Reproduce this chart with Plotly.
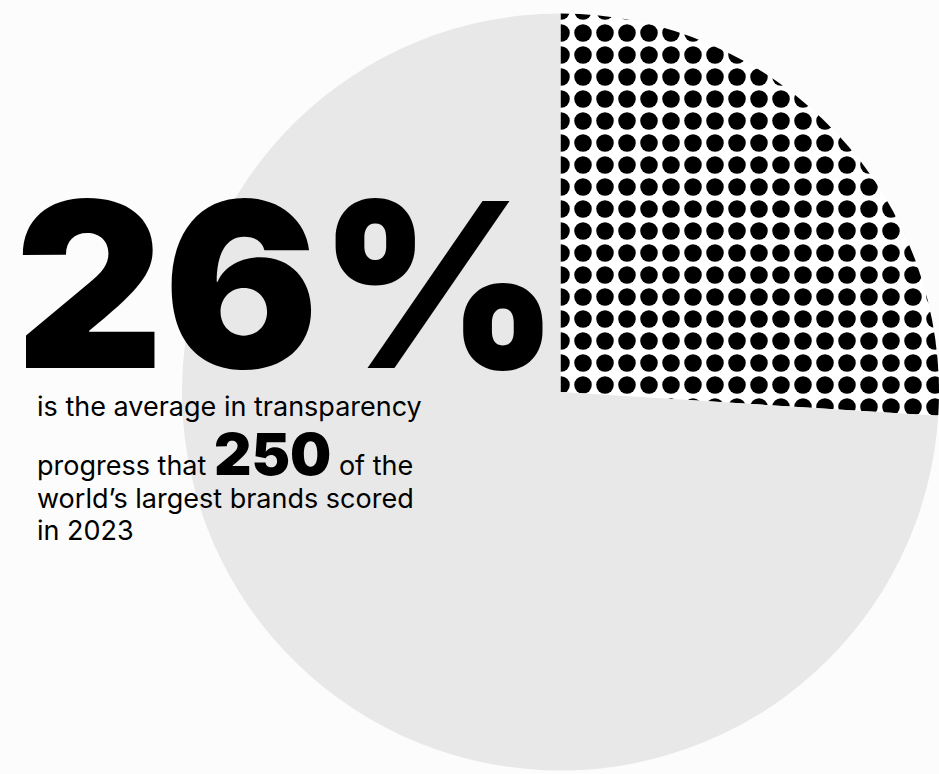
import plotly.graph_objects as go

labels = ["Transparency progress (average)", "Remaining"]
values = [26, 74]
slice_colors = ["#ffffff", "#e8e8e8"]
slice_patterns = [".", ""]

headline = "26%"
line1 = "is the average in transparency"
line2_a = "progress that"
line2_num = "250"
line2_b = "of the"
line3 = "world’s largest brands scored"
line4 = "in 2023"

W, H = 939, 774
cx, cy, r = 560.5, 392, 378.5  # pixel geometry of pie (from top-left)

fig = go.Figure()
fig.add_trace(go.Pie(
    labels=labels, values=values, sort=False, direction="clockwise", rotation=0,
    marker=dict(colors=slice_colors, line=dict(width=0),
                pattern=dict(shape=slice_patterns, fgcolor="#000000", fgopacity=1,
                             size=22, solidity=0.5, fillmode="overlay")),
    textinfo="none", hoverinfo="label+percent", showlegend=False,
    domain=dict(x=[(cx - r) / W, min(1.0, (cx + r) / W)],
                y=[(H - cy - r) / H, (H - cy + r) / H]),
))

def px_x(x):
    return x / W

def px_y(y):
    return 1 - y / H

ann = []
ann.append(dict(text=headline, x=px_x(13), y=px_y(284), xanchor="left", yanchor="middle",
                font=dict(family="Inter", size=230, color="#000000", weight=900)))
body_font = dict(family="Inter", size=27, color="#000000")
ann.append(dict(text=line1, x=px_x(35), y=px_y(406), xanchor="left", yanchor="middle", font=body_font))
ann.append(dict(text=f"{line2_a} <span style='font-size:58px;font-weight:900'>{line2_num}</span> {line2_b}",
                x=px_x(35), y=px_y(454), xanchor="left", yanchor="middle", font=body_font))
ann.append(dict(text=line3, x=px_x(35), y=px_y(498), xanchor="left", yanchor="middle", font=body_font))
ann.append(dict(text=line4, x=px_x(35), y=px_y(530), xanchor="left", yanchor="middle", font=body_font))
for a in ann:
    a.update(xref="paper", yref="paper", showarrow=False)

fig.update_layout(
    width=W, height=H, margin=dict(l=0, r=0, t=0, b=0),
    paper_bgcolor="#fcfcfc", plot_bgcolor="#fcfcfc",
    annotations=ann,
)
fig.write_html("out.html", config={"displayModeBar": False},
               post_script="document.body.style.margin='0';document.body.style.overflow='hidden';")
